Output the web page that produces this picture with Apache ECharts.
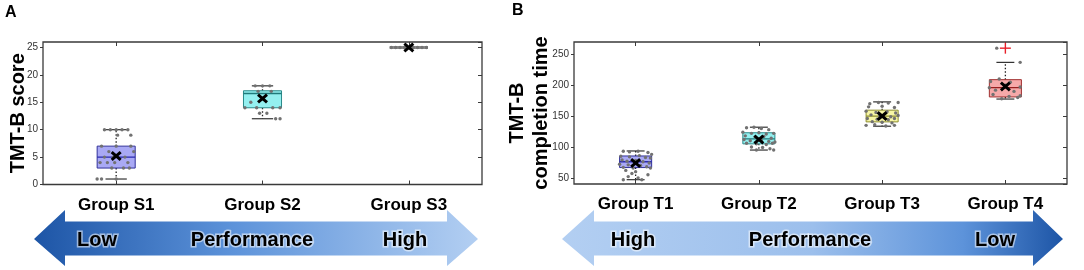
<!DOCTYPE html>
<html>
<head>
<meta charset="utf-8">
<title>TMT-B</title>
<script src="https://cdn.jsdelivr.net/npm/echarts@6.0.0/dist/echarts.min.js"></script>
<style>
  html, body { margin: 0; padding: 0; background: #fff; }
  #chart { width: 1084px; height: 270px; }
</style>
</head>
<body>
<div id="chart"></div>
<script>
// ---- data: panel A (TMT-B score) ----
var groupsA = ['Group S1', 'Group S2', 'Group S3'];
// [min, Q1, median, Q3, max]
var boxA = [[1, 3, 5, 7, 10], [12, 14, 16.6, 17.1, 18], [25, 25, 25, 25, 25]];
var meanA = [5.2, 15.7, 25];
// [group, offset within band, value]
var pointsA = [
  [0, -0.08, 10], [0, -0.04, 10], [0, 0.0, 10], [0, 0.04, 10], [0, 0.08, 10], [0, 0.01, 9], [0, 0.1, 9],
  [0, -0.1, 7], [0, 0.0, 7], [0, 0.1, 7], [0, 0.12, 6], [0, -0.05, 6], [0, -0.08, 5], [0, -0.02, 5],
  [0, 0.06, 5], [0, -0.11, 4], [0, -0.06, 4], [0, -0.01, 4], [0, 0.08, 4], [0, -0.03, 3], [0, 0.05, 3],
  [0, 0.09, 3], [0, -0.13, 1], [0, -0.1, 1], [0, 0.0, 1],
  [1, -0.05, 18], [1, 0.0, 18], [1, 0.05, 18], [1, -0.03, 17], [1, 0.06, 17], [1, -0.08, 15],
  [1, -0.12, 14], [1, -0.04, 14], [1, 0.07, 14], [1, 0.12, 14], [1, 0.03, 13], [1, -0.02, 13],
  [1, 0.09, 12], [1, 0.12, 12],
  [2, -0.12, 25], [2, -0.09, 25], [2, -0.06, 25], [2, -0.03, 25], [2, 0.0, 25], [2, 0.03, 25],
  [2, 0.06, 25], [2, 0.09, 25], [2, 0.12, 25]
];
var rangeA = [0, 26];

// ---- data: panel B (TMT-B completion time) ----
var groupsB = ['Group T1', 'Group T2', 'Group T3', 'Group T4'];
var boxB = [[47, 66.6, 76, 85.4, 93.5], [95, 105, 113, 123, 132], [133.6, 140.6, 150, 159.6, 173], [177.6, 181, 196, 209, 237]];
var meanB = [74, 112, 150, 198];
var outliersB = [[3, 0, 260]];
var pointsB = [
  [0, -0.1, 93], [0, -0.05, 92], [0, 0.02, 93], [0, 0.1, 91], [0, 0.13, 88], [0, -0.12, 85], [0, -0.05, 84],
  [0, 0.03, 86], [0, 0.08, 83], [0, 0.12, 82], [0, -0.11, 79], [0, -0.07, 77], [0, 0.0, 78], [0, 0.06, 76],
  [0, 0.11, 74], [0, -0.13, 72], [0, -0.06, 71], [0, 0.04, 70], [0, 0.09, 68], [0, -0.1, 67], [0, -0.02, 66],
  [0, 0.12, 66], [0, -0.08, 62], [0, 0.0, 60], [0, -0.03, 57], [0, 0.1, 55], [0, -0.06, 52], [0, 0.02, 50],
  [0, -0.1, 47], [0, 0.05, 47],
  [1, -0.1, 131], [1, -0.04, 132], [1, 0.02, 130], [1, 0.08, 128], [1, -0.13, 124], [1, -0.06, 122],
  [1, 0.0, 123], [1, 0.06, 121], [1, 0.12, 122], [1, -0.11, 118], [1, -0.03, 116], [1, 0.04, 117],
  [1, 0.1, 114], [1, -0.12, 112], [1, -0.07, 110], [1, 0.02, 111], [1, 0.08, 109], [1, 0.13, 108],
  [1, -0.1, 106], [1, -0.02, 105], [1, 0.06, 104], [1, 0.11, 106], [1, -0.06, 100], [1, 0.03, 99],
  [1, 0.09, 97], [1, -0.02, 95], [1, 0.12, 95],
  [2, -0.1, 170], [2, -0.03, 172], [2, 0.05, 171], [2, 0.13, 172], [2, -0.11, 165], [2, 0.0, 166],
  [2, 0.1, 164], [2, -0.13, 158], [2, -0.05, 156], [2, 0.04, 157], [2, 0.11, 155], [2, -0.09, 152],
  [2, -0.02, 150], [2, 0.07, 149], [2, 0.13, 151], [2, -0.12, 146], [2, -0.04, 145], [2, 0.05, 144],
  [2, 0.1, 146], [2, -0.08, 141], [2, 0.0, 140], [2, 0.08, 139], [2, -0.13, 135], [2, -0.06, 136],
  [2, 0.03, 134], [2, 0.1, 135],
  [3, -0.12, 206], [3, -0.05, 210], [3, 0.04, 205], [3, 0.12, 197], [3, -0.13, 196], [3, -0.08, 192],
  [3, 0.0, 200], [3, 0.07, 190], [3, 0.12, 183], [3, -0.1, 185], [3, 0.03, 182], [3, -0.03, 178],
  [3, 0.1, 180], [3, 0.12, 237], [3, -0.07, 260]
];
var rangeB = [40, 270];

// ---- styles ----
var fillA = ['#a9a9f5', '#94f0f0', '#8a8a8a'];
var edgeA = ['#30309a', '#2a8a8a', '#8a8a8a'];
var medA = ['#2a2ab0', '#1f7a7a', '#8a8a8a'];
var fillB = ['#a9a9f5', '#94f0f0', '#f7f6a6', '#f6a9a9'];
var edgeB = ['#30309a', '#2a8a8a', '#8f8f30', '#a03030'];
var medB = ['#2a2ab0', '#1f7a7a', '#8f8f30', '#9a2020'];
var FONT = 'Liberation Sans, Arial, sans-serif';
var FRAME = '#3a3a3a';

function boxRender(fills, edges, meds) {
  return function (params, api) {
    var i = api.value(0);
    var lo = api.coord([i, api.value(1)]);
    var q1 = api.coord([i, api.value(2)]);
    var md = api.coord([i, api.value(3)]);
    var q3 = api.coord([i, api.value(4)]);
    var hi = api.coord([i, api.value(5)]);
    var w = api.size([1, 0])[0] * 0.26;
    var x = md[0];
    var flat = api.value(1) === api.value(5);
    var ch = [];
    if (!flat) {
      ch.push({ type: 'line', shape: { x1: x, y1: q3[1], x2: x, y2: hi[1] }, style: { stroke: '#222', lineWidth: 1.3, lineDash: [1.5, 2] } });
      ch.push({ type: 'line', shape: { x1: x, y1: q1[1], x2: x, y2: lo[1] }, style: { stroke: '#222', lineWidth: 1.3, lineDash: [1.5, 2] } });
      ch.push({ type: 'line', shape: { x1: x - w * 0.28, y1: hi[1], x2: x + w * 0.28, y2: hi[1] }, style: { stroke: '#333', lineWidth: 1.2 } });
      ch.push({ type: 'line', shape: { x1: x - w * 0.28, y1: lo[1], x2: x + w * 0.28, y2: lo[1] }, style: { stroke: '#333', lineWidth: 1.2 } });
    }
    ch.push({ type: 'rect', shape: { x: x - w / 2, y: q3[1], width: w, height: q1[1] - q3[1] }, style: { fill: fills[params.dataIndex], stroke: edges[params.dataIndex], lineWidth: flat ? 3 : 1 } });
    ch.push({ type: 'line', shape: { x1: x - w / 2, y1: md[1], x2: x + w / 2, y2: md[1] }, style: { stroke: meds[params.dataIndex], lineWidth: flat ? 3 : 1.3 } });
    return { type: 'group', children: ch };
  };
}

function pointRender(params, api) {
  var p = api.coord([api.value(0), api.value(2)]);
  var bw = api.size([1, 0])[0];
  return { type: 'circle', shape: { cx: p[0] + api.value(1) * bw, cy: p[1], r: 1.7 }, style: { fill: '#727272' } };
}

function meanRender(params, api) {
  var p = api.coord([api.value(0), api.value(1)]);
  var s = 4.5;
  return { type: 'group', children: [
    { type: 'line', shape: { x1: p[0] - s, y1: p[1] - s * 0.85, x2: p[0] + s, y2: p[1] + s * 0.85 }, style: { stroke: '#000', lineWidth: 3 } },
    { type: 'line', shape: { x1: p[0] - s, y1: p[1] + s * 0.85, x2: p[0] + s, y2: p[1] - s * 0.85 }, style: { stroke: '#000', lineWidth: 3 } }
  ] };
}

function plusRender(params, api) {
  var p = api.coord([api.value(0), api.value(2)]);
  var s = 5.5;
  return { type: 'group', children: [
    { type: 'line', shape: { x1: p[0] - s, y1: p[1], x2: p[0] + s, y2: p[1] }, style: { stroke: '#e8202a', lineWidth: 1.4 } },
    { type: 'line', shape: { x1: p[0], y1: p[1] - s, x2: p[0], y2: p[1] + s }, style: { stroke: '#e8202a', lineWidth: 1.4 } }
  ] };
}

// category axis; "ticks only" copies are pulled 4px into the plot so their outward ticks sit inside the frame
function catAxis(grid, data, pos, withLabel) {
  return {
    type: 'category', gridIndex: grid, data: data, position: pos, offset: withLabel ? 0 : -4,
    axisLine: { show: false },
    axisTick: { show: !withLabel, alignWithLabel: true, length: 4, lineStyle: { color: FRAME, width: 1 } },
    axisLabel: { show: withLabel, color: '#000', fontSize: 17, fontWeight: 'bold', fontFamily: FONT, margin: 12 },
    splitLine: { show: false }
  };
}

function valAxis(grid, ext, pos, withLabel, name, gap) {
  return {
    type: 'value', gridIndex: grid, min: ext[0], max: ext[1], position: pos, offset: withLabel ? 0 : -4,
    name: name || '', nameLocation: 'middle', nameGap: gap || 0, nameMoveOverlap: false,
    nameTextStyle: { color: '#000', fontSize: 20, fontWeight: 'bold', fontFamily: FONT, lineHeight: 24 },
    axisLine: { show: false },
    axisTick: { show: true, length: withLabel ? 3 : 4, lineStyle: { color: FRAME, width: 1 } },
    axisLabel: { show: withLabel, color: '#333', fontSize: 10, fontFamily: FONT, margin: 5, showMaxLabel: false, showMinLabel: ext[0] === 0 },
    splitLine: { show: false }
  };
}

function arrow(x0, xh0, xh1, x1, cols) {
  return {
    type: 'polygon', silent: true, z: 1,
    shape: { points: [[x0, 239], [xh0, 210], [xh0, 221.5], [xh1, 221.5], [xh1, 210], [x1, 239], [xh1, 266], [xh1, 255.5], [xh0, 255.5], [xh0, 266]] },
    style: { fill: new echarts.graphic.LinearGradient(0, 0, 1, 0, cols) }
  };
}

function label(txt, x, y, size) {
  return {
    type: 'text', x: x, y: y, z: 5, silent: true,
    style: {
      text: txt, fill: '#000', font: 'bold ' + size + 'px ' + FONT, align: 'center', verticalAlign: 'middle',
      stroke: 'rgba(255,255,255,0.55)', lineWidth: 3
    }
  };
}

var chart = echarts.init(document.getElementById('chart'));
chart.setOption({
  animation: false,
  grid: [
    { left: 43, top: 42, width: 439, height: 142.5, show: true, borderColor: FRAME, borderWidth: 1.3, backgroundColor: 'transparent' },
    { left: 574, top: 42, width: 493, height: 142, show: true, borderColor: FRAME, borderWidth: 1.3, backgroundColor: 'transparent' }
  ],
  xAxis: [
    catAxis(0, groupsA, 'bottom', true), catAxis(0, groupsA, 'bottom', false), catAxis(0, groupsA, 'top', false),
    catAxis(1, groupsB, 'bottom', true), catAxis(1, groupsB, 'bottom', false), catAxis(1, groupsB, 'top', false)
  ],
  yAxis: [
    valAxis(0, rangeA, 'left', true, 'TMT-B score', 13), valAxis(0, rangeA, 'right', false),
    valAxis(1, rangeB, 'left', true, 'TMT-B\ncompletion time', 21), valAxis(1, rangeB, 'right', false)
  ],
  series: [
    { type: 'custom', xAxisIndex: 0, yAxisIndex: 0, renderItem: boxRender(fillA, edgeA, medA), encode: { x: 0, y: [1, 2, 3, 4, 5] },
      data: boxA.map(function (b, i) { return [i].concat(b); }) },
    { type: 'custom', xAxisIndex: 0, yAxisIndex: 0, renderItem: pointRender, encode: { x: 0, y: 2 }, data: pointsA },
    { type: 'custom', xAxisIndex: 0, yAxisIndex: 0, renderItem: meanRender, encode: { x: 0, y: 1 },
      data: meanA.map(function (m, i) { return [i, m]; }) },
    { type: 'custom', xAxisIndex: 3, yAxisIndex: 2, renderItem: boxRender(fillB, edgeB, medB), encode: { x: 0, y: [1, 2, 3, 4, 5] },
      data: boxB.map(function (b, i) { return [i].concat(b); }) },
    { type: 'custom', xAxisIndex: 3, yAxisIndex: 2, renderItem: pointRender, encode: { x: 0, y: 2 }, data: pointsB },
    { type: 'custom', xAxisIndex: 3, yAxisIndex: 2, renderItem: plusRender, encode: { x: 0, y: 2 }, data: outliersB },
    { type: 'custom', xAxisIndex: 3, yAxisIndex: 2, renderItem: meanRender, encode: { x: 0, y: 1 },
      data: meanB.map(function (m, i) { return [i, m]; }) }
  ],
  graphic: [
    { type: 'text', left: 5, top: 5, style: { text: 'A', font: 'bold 16px ' + FONT, fill: '#000' } },
    { type: 'text', left: 512, top: 3, style: { text: 'B', font: 'bold 16px ' + FONT, fill: '#000' } },
    arrow(34, 65, 447, 478, [{ offset: 0, color: '#1d55a6' }, { offset: 0.45, color: '#5d93da' }, { offset: 1, color: '#b3cff2' }]),
    arrow(562, 594, 1033, 1063, [{ offset: 0, color: '#b3cff2' }, { offset: 0.5, color: '#9cbfec' }, { offset: 0.8, color: '#5d93da' }, { offset: 1, color: '#1d55a6' }]),
    label('Low', 97, 240, 20), label('Performance', 252, 240, 20), label('High', 405, 240, 20),
    label('High', 633, 240, 20), label('Performance', 810, 240, 20), label('Low', 995, 240, 20)
  ]
});
</script>
</body>
</html>
